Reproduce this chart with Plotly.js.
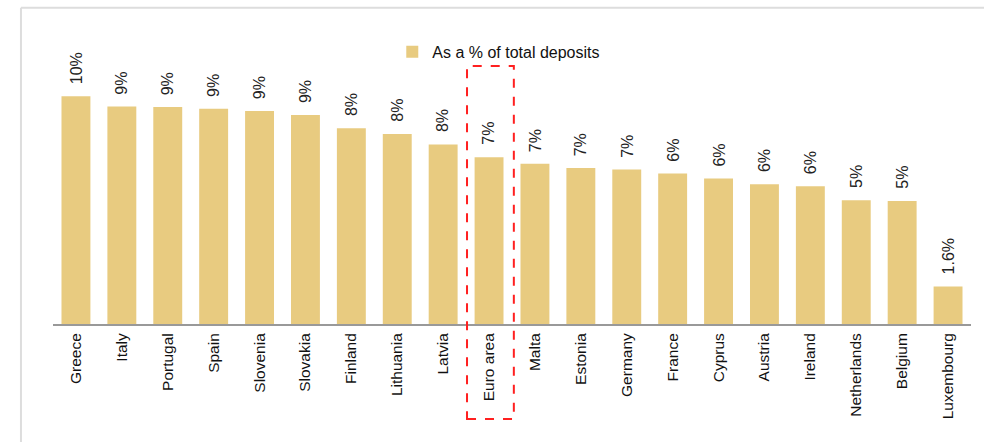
<!DOCTYPE html>
<html>
<head>
<meta charset="utf-8">
<script src="https://cdn.plot.ly/plotly-3.0.1.min.js"></script>
<style>
  html, body { margin: 0; padding: 0; background: #ffffff; }
  #chart { width: 984px; height: 442px; }
</style>
</head>
<body>
<div id="chart"></div>
<script>
// ---- data ----
const countries = ["Greece", "Italy", "Portugal", "Spain", "Slovenia", "Slovakia", "Finland",
  "Lithuania", "Latvia", "Euro area", "Malta", "Estonia", "Germany", "France", "Cyprus",
  "Austria", "Ireland", "Netherlands", "Belgium", "Luxembourg"];
const shareOfDeposits = [9.69, 9.26, 9.23, 9.16, 9.06, 8.89, 8.33, 8.09, 7.64, 7.10,
  6.82, 6.64, 6.57, 6.40, 6.19, 5.95, 5.86, 5.27, 5.23, 1.60];
const valueLabels = ["10%", "9%", "9%", "9%", "9%", "9%", "8%", "8%", "8%", "7%",
  "7%", "7%", "7%", "6%", "6%", "6%", "6%", "5%", "5%", "1.6%"];
const seriesName = "As a % of total deposits";
const highlighted = "Euro area";

const FONT = '"Liberation Sans", Arial, sans-serif';
const barColor = "#E8CB80";

const trace = {
  type: "bar",
  x: countries,
  y: shareOfDeposits,
  name: seriesName,
  marker: { color: barColor, line: { width: 0 } },
  hoverinfo: "x+y",
  showlegend: true
};

const annotations = countries.map((c, i) => ({
  x: c, y: shareOfDeposits[i], xref: "x", yref: "y",
  text: valueLabels[i], showarrow: false, textangle: -90,
  xanchor: "center", yanchor: "bottom", yshift: 10,
  font: { family: FONT, size: 16, color: "#222222" }
}));

// highlight box around the Euro area category (paper coordinates, extends into tick label zone)
const hi = countries.indexOf(highlighted);
const n = countries.length;
const shapes = [
  { type: "rect", xref: "paper", yref: "paper",
    x0: (hi + 0.02) / n, x1: (hi + 1.04) / n, y0: -0.337, y1: 0.915,
    line: { color: "#FF2020", width: 2, dash: "dash" }, fillcolor: "rgba(0,0,0,0)" },
  // outer frame (top and left edges)
  { type: "line", xref: "paper", yref: "paper", x0: -0.0349, x1: 1.02, y0: 1.1215, y1: 1.1215,
    line: { color: "#DDDDDD", width: 2 } },
  { type: "line", xref: "paper", yref: "paper", x0: -0.0349, x1: -0.0349, y0: 1.1215, y1: -0.45,
    line: { color: "#DDDDDD", width: 2 } }
];

const layout = {
  width: 984, height: 442,
  margin: { l: 53, r: 13, t: 42, b: 118, pad: 0 },
  paper_bgcolor: "#ffffff", plot_bgcolor: "#ffffff",
  font: { family: FONT, size: 16, color: "#111111" },
  bargap: 0.37,
  xaxis: {
    type: "category", range: [-0.5, n - 0.5],
    showline: true, linecolor: "#999999", linewidth: 2,
    ticks: "outside", ticklen: 1, tickcolor: "rgba(0,0,0,0)",
    tickangle: -90, showgrid: false, zeroline: false,
    tickfont: { family: FONT, size: 15.5, color: "#111111" }
  },
  yaxis: {
    range: [0, 12], showticklabels: false, showgrid: false,
    zeroline: false, showline: false, ticks: ""
  },
  showlegend: true,
  legend: {
    orientation: "h", x: 0.4856, xanchor: "center", y: 0.965, yanchor: "middle",
    bgcolor: "rgba(0,0,0,0)", font: { family: FONT, size: 16, color: "#111111" },
    itemwidth: 30
  },
  annotations: annotations,
  shapes: shapes
};

Plotly.newPlot("chart", [trace], layout, { displayModeBar: false, staticPlot: true });
</script>
</body>
</html>
